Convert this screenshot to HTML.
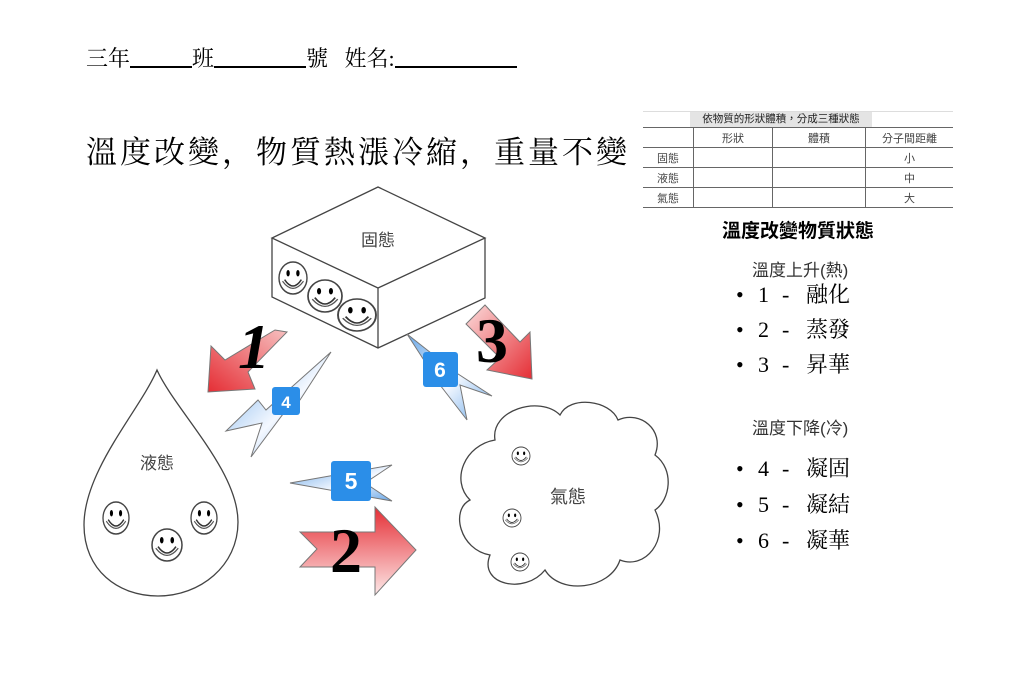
<!DOCTYPE html>
<html><head><meta charset="utf-8"><style>
html,body{margin:0;padding:0;background:#fff;}
body{width:1024px;height:686px;overflow:hidden;position:relative;font-family:"Liberation Sans","Noto Sans CJK TC",sans-serif;}
.t{position:absolute;white-space:nowrap;}
.k{font-family:"Liberation Serif","Noto Serif CJK SC",serif;}
table{border-collapse:collapse;position:absolute;left:643px;top:127px;font-size:11px;color:#444;}
td{border:1px solid #666;height:19px;padding:0;text-align:center;}
.li span{display:inline-block;}
.li .a{width:22px;}.li .n{width:24px;}.li .d{width:24px;}
</style></head><body>
<div class="t k" style="left:86px;top:42px;font-size:22px;">三年<span style="display:inline-block;width:62px;border-bottom:2px solid #000;height:20px;vertical-align:-2px"></span>班<span style="display:inline-block;width:92px;border-bottom:2px solid #000;height:20px;vertical-align:-2px"></span>號&nbsp;&nbsp;&nbsp;姓名:<span style="display:inline-block;width:122px;border-bottom:2px solid #000;height:20px;vertical-align:-2px"></span></div>
<div class="t k" style="left:86px;top:127px;font-size:31px;letter-spacing:3px;">溫度改變，物質熱漲冷縮，重量不變</div>

<div class="t" style="left:690px;top:112px;width:182px;height:15px;background:#e4e4e4;font-size:10.5px;text-align:center;line-height:15px;color:#222;">依物質的形狀體積，分成三種狀態</div>
<div class="t" style="left:643px;top:111px;width:310px;border-top:1px solid #ddd"></div>
<table>
<tr><td style="width:50px;border-left:none"></td><td style="width:78px">形狀</td><td style="width:92px">體積</td><td style="width:87px;border-right:none">分子間距離</td></tr>
<tr><td style="border-left:none">固態</td><td></td><td></td><td style="border-right:none">小</td></tr>
<tr><td style="border-left:none">液態</td><td></td><td></td><td style="border-right:none">中</td></tr>
<tr><td style="border-left:none">氣態</td><td></td><td></td><td style="border-right:none">大</td></tr>
</table>

<div class="t" style="left:722px;top:216px;font-size:19px;font-weight:bold;">溫度改變物質狀態</div>
<div class="t" style="left:752px;top:256px;font-size:17px;color:#333;">溫度上升(熱)</div>
<div class="t k li" style="left:736px;top:277px;font-size:22px;line-height:35px;">
<div><span class="a">•</span><span class="n">1</span><span class="d">-</span>融化</div>
<div><span class="a">•</span><span class="n">2</span><span class="d">-</span>蒸發</div>
<div><span class="a">•</span><span class="n">3</span><span class="d">-</span>昇華</div></div>
<div class="t" style="left:752px;top:414px;font-size:17px;color:#333;">溫度下降(冷)</div>
<div class="t k li" style="left:736px;top:451px;font-size:22px;line-height:36px;">
<div><span class="a">•</span><span class="n">4</span><span class="d">-</span>凝固</div>
<div><span class="a">•</span><span class="n">5</span><span class="d">-</span>凝結</div>
<div><span class="a">•</span><span class="n">6</span><span class="d">-</span>凝華</div></div>

<svg width="1024" height="686" style="position:absolute;left:0;top:0" xmlns="http://www.w3.org/2000/svg">
<defs>
<linearGradient id="r" x1="0" y1="0" x2="1" y2="1"><stop offset="0" stop-color="#fbdcdc"/><stop offset="1" stop-color="#e52e35"/></linearGradient>
<linearGradient id="r1" x1="1" y1="0" x2="0" y2="1"><stop offset="0" stop-color="#f7c0c0"/><stop offset="1" stop-color="#e52e35"/></linearGradient>
<linearGradient id="r2" x1="0" y1="0" x2="0" y2="1"><stop offset="0" stop-color="#e52e35"/><stop offset="1" stop-color="#fde8e8"/></linearGradient>
<linearGradient id="b" x1="0" y1="0" x2="1" y2="1"><stop offset="0" stop-color="#6aa8e8"/><stop offset="0.55" stop-color="#f4f8ff"/><stop offset="1" stop-color="#6aa8e8"/></linearGradient>
<g id="s"><circle r="10" fill="#fff" stroke="#444" stroke-width="1"/><ellipse cx="-3.5" cy="-3" rx="1.2" ry="2"/><ellipse cx="3.5" cy="-3" rx="1.2" ry="2"/><path d="M-6,1 Q0,9 6,1" fill="none" stroke="#333" stroke-width="1"/><path d="M-7.5,2 Q0,11 7.5,2" fill="none" stroke="#555" stroke-width="0.8"/></g>
</defs>
<g fill="none" stroke="#444" stroke-width="1.3">
<path d="M378,187 L485,238 L378,288 L272,238 Z M272,238 L272,297 L378,348 L485,298 L485,238 M378,288 L378,348" fill="#fff"/>
<path d="M157,370 C140,410 84,470 84,525 C84,570 118,596 158,596 C200,596 238,566 238,522 C238,470 175,410 157,370 Z" fill="#fff"/>
<path d="M495,440 C490,410 540,395 560,415 C570,395 610,400 618,420 C640,410 665,430 655,455 C675,470 670,500 655,510 C670,540 645,570 620,560 C610,590 560,595 545,570 C525,595 478,585 490,555 C460,550 450,510 470,500 C450,480 465,445 495,440 Z" fill="#fff"/>
</g>
<text x="378" y="246" font-size="17" text-anchor="middle" fill="#444" font-family="Liberation Sans,Noto Sans CJK TC,sans-serif">固態</text>
<text x="157" y="469" font-size="17" text-anchor="middle" fill="#444" font-family="Liberation Sans,Noto Sans CJK TC,sans-serif">液態</text>
<text x="568" y="503" font-size="18" text-anchor="middle" fill="#444" font-family="Liberation Sans,Noto Sans CJK TC,sans-serif">氣態</text>
<use href="#s" transform="translate(293,278) scale(1.4,1.6)"/>
<use href="#s" transform="translate(325,296) scale(1.7,1.6)"/>
<use href="#s" transform="translate(357,315) scale(1.9,1.6)"/>
<use href="#s" transform="translate(116,518) scale(1.3,1.6)"/>
<use href="#s" transform="translate(167,545) scale(1.5,1.6)"/>
<use href="#s" transform="translate(204,518) scale(1.3,1.6)"/>
<use href="#s" transform="translate(521,456) scale(0.9)"/>
<use href="#s" transform="translate(512,518) scale(0.9)"/>
<use href="#s" transform="translate(520,562) scale(0.9)"/>
<g stroke="#777" stroke-width="1">
<polygon points="208,392 211,346 225,360 275,330 287,332 248,372 255,389" fill="url(#r1)"/>
<polygon points="532,379 487,370 500,358 466,324 485,305 497,318 520,342 530,332" fill="url(#r)"/>
<polygon points="300,532 375,532 375,507 416,550 375,595 375,567 300,567 317,549" fill="url(#r2)"/>
<polygon points="331,352 300,400 292,402 251,457 262,423 226,431 258,400 266,410" fill="url(#b)"/>
<polygon points="407,334 455,372 492,396 460,385 467,420 440,385" fill="url(#b)"/>
<polygon points="290,483 392,465 365,483 392,501" fill="url(#b)"/>
</g>
<g font-family="Liberation Serif,serif" font-weight="bold" font-size="64" fill="#000">
<text x="238" y="368" font-style="italic">1</text>
<text x="476" y="362">3</text>
<text x="330" y="572">2</text>
</g>
<g font-family="Liberation Sans,sans-serif" font-weight="bold" fill="#fff" text-anchor="middle">
<rect x="272" y="387" width="28" height="28" rx="3" fill="#2b8ee8"/><text x="286" y="408" font-size="17">4</text>
<rect x="423" y="352" width="35" height="35" rx="3" fill="#2b8ee8"/><text x="440" y="377" font-size="21">6</text>
<rect x="331" y="461" width="40" height="40" rx="3" fill="#2b8ee8"/><text x="351" y="489" font-size="23">5</text>
</g>
</svg>
</body></html>
